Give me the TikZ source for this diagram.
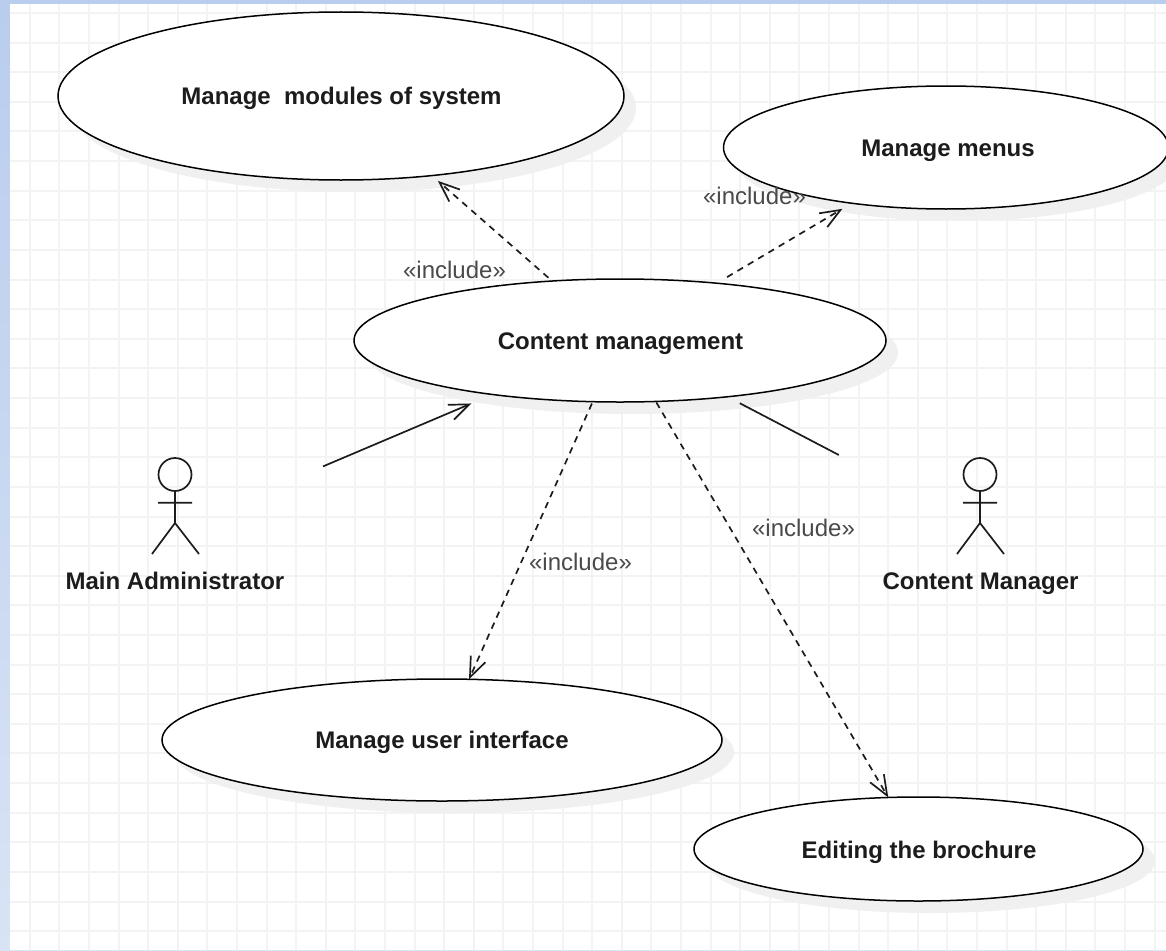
\documentclass[tikz,border=0pt]{standalone}
\usepackage{fontspec}
\setmainfont{Liberation Sans}
\usetikzlibrary{arrows.meta,shapes.geometric}
\definecolor{bandtop}{HTML}{B9CDEE}
\definecolor{bandbot}{HTML}{D8E3F5}
\definecolor{gridc}{HTML}{F3F3F3}
\definecolor{shadowc}{HTML}{F0F0F0}
\definecolor{inkc}{HTML}{1C1C1C}
\definecolor{inclc}{HTML}{4A4A4A}
\tikzset{
  usecase/.style={ellipse,draw=black,line width=1.5pt,fill=white,inner sep=0pt,outer sep=0pt},
  castshadow/.style={fill=shadowc},
  actorbox/.style={rectangle,minimum width=296pt,minimum height=148pt,inner sep=0pt,outer sep=0pt},
  boldtext/.style={font=\fontsize{24}{28}\selectfont\bfseries,text=inkc,inner sep=0pt,anchor=base},
  incl/.style={font=\fontsize{24}{28}\selectfont,text=inclc,inner sep=0pt},
  limb/.style={draw=inkc,line width=1.7pt},
  head/.style={circle,draw=inkc,line width=1.7pt,minimum size=33pt,inner sep=0pt,outer sep=0pt},
  assoc/.style={draw=inkc,line width=1.7pt},
  dep/.style={draw=inkc,line width=1.7pt,dash pattern=on 6.5pt off 5.5pt},
  opentip/.style={-{Straight Barb[length=20pt,width=16pt]}}
}
\begin{document}
\begin{tikzpicture}[x=1pt,y=-1pt]
\useasboundingbox (0,0) rectangle (1166,950);
% backdrop
\shade[top color=bandtop,bottom color=bandbot] (0,0) rectangle (1166,950);
\fill[white] (10,4) rectangle (1166,950);
\begin{scope}
\clip (10,4) rectangle (1166,950);
\foreach \k in {1,...,39} \draw[gridc,line width=1.8pt] ({round(0.2+29.6*\k)},4) -- ({round(0.2+29.6*\k)},950);
\foreach \k in {0,...,31} \draw[gridc,line width=1.8pt] (10,{round(13+29.62*\k)}) -- (1166,{round(13+29.62*\k)});
\end{scope}
% shadows
\fill[castshadow] (353,108) ellipse [x radius=283pt,y radius=84pt];
\fill[castshadow] (957.5,159.5) ellipse [x radius=222.5pt,y radius=61.5pt];
\fill[castshadow] (632,352.5) ellipse [x radius=266pt,y radius=61.5pt];
\fill[castshadow] (454,752) ellipse [x radius=280pt,y radius=61pt];
\fill[castshadow] (930.5,861) ellipse [x radius=224.5pt,y radius=52pt];
% use cases
\node[usecase,minimum width=566pt,minimum height=168pt] (mm) at (341,96) {};
\node[usecase,minimum width=445pt,minimum height=123pt] (me) at (946,147.5) {};
\node[usecase,minimum width=532pt,minimum height=123pt] (cm) at (620,340.5) {};
\node[usecase,minimum width=560pt,minimum height=122pt] (ui) at (442,740) {};
\node[usecase,minimum width=449pt,minimum height=104pt] (br) at (918.5,849) {};
\node[boldtext] (tmm) at (341.5,104.5) {Manage\ \ modules of system};
\node[boldtext] (tme) at (948,156.5) {Manage menus};
\node[boldtext] (tcm) at (620.5,349) {Content management};
\node[boldtext] (tui) at (442,748.5) {Manage user interface};
\node[boldtext] (tbr) at (919,858) {Editing the brochure};
% actors
\node[actorbox] (ma) at (175,529) {};
\node[actorbox] (cu) at (980,529) {};
\node[head] (mahead) at (175,474.5) {};
\node[head] (cuhead) at (980,474.5) {};
\coordinate (mahip) at (175,523);
\coordinate (cuhip) at (980,523);
\draw[limb] (mahead.south) -- (mahip) (158,502.7) -- (192,502.7) (152,554) -- (mahip) -- (199,554);
\draw[limb] (cuhead.south) -- (cuhip) (963,502.7) -- (997,502.7) (957,554) -- (cuhip) -- (1004,554);
\node[boldtext] (maname) at (175,589.6) {Main Administrator};
\node[boldtext] (cuname) at (980.5,589.6) {Content Manager};
% connectors
\draw[dep,opentip,shorten <=5pt,shorten >=8pt] (cm) -- (mm);
\draw[dep,opentip,shorten <=12pt,shorten >=11pt] (cm) -- (me);
\draw[dep,opentip,shorten <=2pt] (cm) -- (ui);
\draw[dep,opentip,shorten <=1pt] (cm) -- (br);
\draw[assoc,opentip,shorten >=23pt] (ma) -- (cm);
\draw[assoc,shorten >=14pt] (cu) -- (cm);
% labels
\node[incl] (l1) at (454.5,270) {«include»};
\node[incl] (l2) at (754.5,196) {«include»};
\node[incl] (l3) at (580.5,562) {«include»};
\node[incl] (l4) at (803.5,528) {«include»};
\end{tikzpicture}
\end{document}
